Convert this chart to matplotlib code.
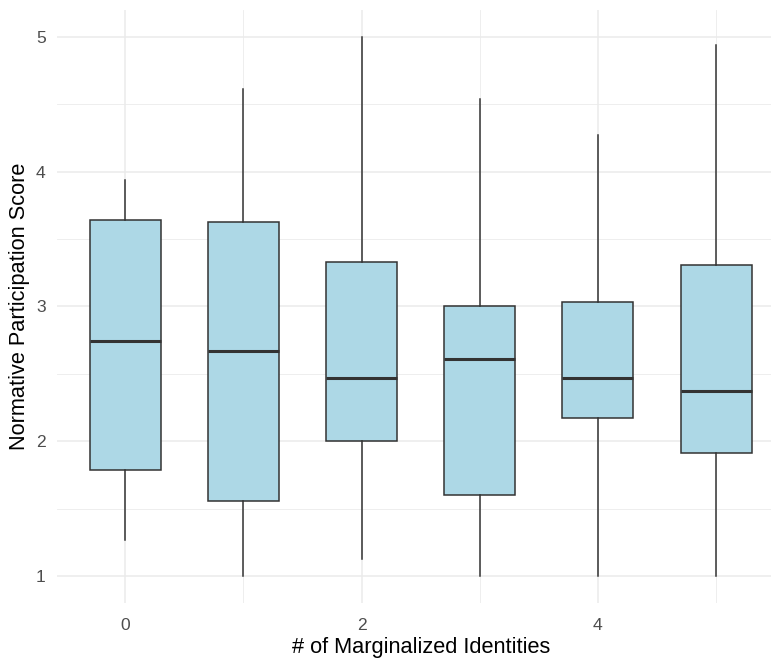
import matplotlib
matplotlib.use("Agg")
import matplotlib.pyplot as plt

# number of marginalized identities (x groups)
groups = [0, 1, 2, 3, 4, 5]
# box statistics
whisker_low = [1.27, 1.00, 1.13, 1.00, 1.00, 1.00]
q1 = [1.79, 1.56, 2.00, 1.60, 2.17, 1.91]
median = [2.74, 2.67, 2.47, 2.61, 2.47, 2.37]
q3 = [3.64, 3.63, 3.33, 3.00, 3.03, 3.31]
whisker_high = [3.94, 4.61, 5.00, 4.54, 4.27, 4.94]

y_ticks = [1, 2, 3, 4, 5]
x_ticks = [0, 2, 4]

plt.rcParams["font.family"] = ["Liberation Sans", "DejaVu Sans"]

fig = plt.figure(figsize=(7.71, 6.59), dpi=100)
ax = fig.add_axes([0.0735, 0.085, 0.9442, 0.900])

stats = [
    {"whislo": lo, "q1": a, "med": m, "q3": b, "whishi": hi}
    for lo, a, m, b, hi in zip(whisker_low, q1, median, q3, whisker_high)
]
ax.bxp(
    stats,
    positions=groups,
    widths=0.6,
    showfliers=False,
    showcaps=False,
    patch_artist=True,
    boxprops=dict(facecolor="#ADD8E6", edgecolor="#333333", linewidth=1.1),
    medianprops=dict(color="#333333", linewidth=2.2, solid_capstyle="butt"),
    whiskerprops=dict(color="#333333", linewidth=1.1),
    zorder=3,
)

ax.set_xlim(-0.58, 5.58)
ax.set_ylim(0.8, 5.2)
ax.set_xticks(x_ticks)
ax.set_xticklabels([str(t) for t in x_ticks])
ax.set_xticks([1, 3, 5], minor=True)
ax.set_yticks(y_ticks)
ax.set_yticklabels([str(t) for t in y_ticks])
ax.set_yticks([1.5, 2.5, 3.5, 4.5], minor=True)

ax.grid(which="major", color="#EBEBEB", linewidth=1.1, zorder=0)
ax.grid(which="minor", color="#EBEBEB", linewidth=0.6, zorder=0)
ax.set_axisbelow(True)
for s in ax.spines.values():
    s.set_visible(False)
ax.tick_params(which="both", length=0, labelsize=12.6, labelcolor="#4D4D4D")
ax.tick_params(axis="x", pad=11)
ax.tick_params(axis="y", pad=8)

fig.text(0.0258, 0.5357, "Normative Participation Score", rotation=90,
         ha="center", va="center", fontsize=15.7, color="black")
fig.text(0.5457, 0.0015, "# of Marginalized Identities",
         ha="center", va="bottom", fontsize=15.7, color="black")

fig.savefig("out.png", dpi=100)
